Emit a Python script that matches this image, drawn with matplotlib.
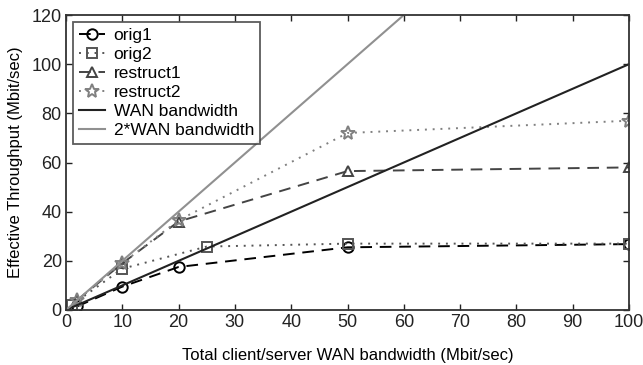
import matplotlib
matplotlib.use("Agg")
import matplotlib.pyplot as plt

plt.rcParams['font.family'] = ['Liberation Sans', 'DejaVu Sans']

# Throughput measurements (Mbit/sec) versus WAN bandwidth (Mbit/sec)
orig1_x = [2, 10, 20, 50, 100]
orig1_y = [1.5, 9.5, 17.5, 25.5, 26.8]

orig2_x = [1, 10, 25, 50, 100]
orig2_y = [2, 16.8, 25.8, 27, 27]

restruct1_x = [2, 10, 20, 50, 100]
restruct1_y = [4, 19, 36, 56.5, 58]

restruct2_x = [2, 10, 20, 50, 100]
restruct2_y = [4, 19, 36.5, 72, 77]

wan_x = [0, 100]
wan_y = [0, 100]

wan2_x = [0, 60]
wan2_y = [0, 120]

x_ticks = [0, 10, 20, 30, 40, 50, 60, 70, 80, 90, 100]
y_ticks = [0, 20, 40, 60, 80, 100, 120]

fig = plt.figure(figsize=(6.43, 3.65), dpi=100)
ax = fig.add_axes([66/643, 1 - 310/365, (629-66)/643, (310-15)/365])

ax.plot(orig1_x, orig1_y, color='black', linestyle=(0, (6, 4)), lw=1.4,
        marker='o', markersize=7.5, markerfacecolor='none', markeredgewidth=1.4,
        label='orig1')
ax.plot(orig2_x, orig2_y, color='#555555', linestyle=(0, (1, 3)), lw=1.4,
        marker='s', markersize=6.5, markerfacecolor='none', markeredgewidth=1.4,
        label='orig2')
ax.plot(restruct1_x, restruct1_y, color='#444444', linestyle=(0, (6, 4)), lw=1.4,
        marker='^', markersize=7.5, markerfacecolor='none', markeredgewidth=1.4,
        label='restruct1')
ax.plot(restruct2_x, restruct2_y, color='#808080', linestyle=(0, (1, 3)), lw=1.4,
        marker='*', markersize=10, markerfacecolor='none', markeredgewidth=1.4,
        label='restruct2')
ax.plot(wan_x, wan_y, color='#222222', lw=1.5, label='WAN bandwidth')
ax.plot(wan2_x, wan2_y, color='#909090', lw=1.5, label='2*WAN bandwidth')

ax.set_xlim(0, 100)
ax.set_ylim(0, 120)
ax.set_xticks(x_ticks)
ax.set_yticks(y_ticks)
ax.tick_params(direction='in', top=True, right=True, length=4, width=1,
               labelsize=13, colors='#222222', pad=3)
for s in ax.spines.values():
    s.set_linewidth(1.3)
    s.set_color('#333333')

ax.set_xlabel('Total client/server WAN bandwidth (Mbit/sec)', fontsize=12, labelpad=12)
ax.set_ylabel('Effective Throughput (Mbit/sec)', fontsize=12, labelpad=6)

leg = ax.legend(loc='upper left', fontsize=12.5, frameon=True, fancybox=False,
                edgecolor='#333333', handlelength=1.5, handletextpad=0.5,
                labelspacing=0.22, borderpad=0.35, borderaxespad=0.4)
leg.get_frame().set_linewidth(1.3)

fig.savefig('out.png', dpi=100)
